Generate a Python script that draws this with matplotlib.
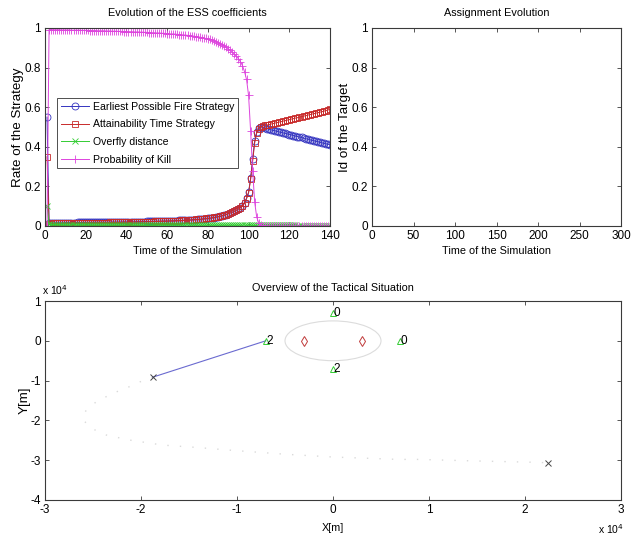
import matplotlib
matplotlib.use("Agg")
import matplotlib.pyplot as plt
import numpy as np
from matplotlib.patches import Ellipse
from matplotlib.ticker import FuncFormatter

plt.rcParams['font.family'] = ['Liberation Sans', 'DejaVu Sans']
plt.rcParams['font.size'] = 8

# ---- ESS coefficients (t = 1..140) ----
time_steps = np.arange(1, 141)

earliest_fire = [
    0.550, 0.015, 0.015, 0.015, 0.016, 0.016, 0.016, 0.016, 0.016, 0.017,
    0.017, 0.017, 0.017, 0.017, 0.017, 0.018, 0.018, 0.018, 0.018, 0.018,
    0.018, 0.018, 0.018, 0.019, 0.019, 0.019, 0.019, 0.019, 0.019, 0.019,
    0.019, 0.020, 0.020, 0.020, 0.020, 0.020, 0.020, 0.020, 0.021, 0.021,
    0.021, 0.021, 0.021, 0.021, 0.022, 0.022, 0.022, 0.022, 0.022, 0.023,
    0.023, 0.023, 0.023, 0.024, 0.024, 0.024, 0.024, 0.025, 0.025, 0.025,
    0.026, 0.026, 0.026, 0.027, 0.027, 0.028, 0.028, 0.029, 0.029, 0.030,
    0.030, 0.031, 0.032, 0.032, 0.033, 0.034, 0.035, 0.036, 0.037, 0.038,
    0.039, 0.041, 0.042, 0.044, 0.046, 0.048, 0.051, 0.054, 0.057, 0.061,
    0.065, 0.069, 0.074, 0.079, 0.085, 0.092, 0.100, 0.118, 0.140, 0.170,
    0.240, 0.340, 0.430, 0.475, 0.495, 0.500, 0.498, 0.495, 0.492, 0.489,
    0.486, 0.483, 0.481, 0.478, 0.475, 0.473, 0.470, 0.468, 0.465, 0.462,
    0.460, 0.457, 0.454, 0.452, 0.449, 0.447, 0.444, 0.441, 0.439, 0.436,
    0.433, 0.431, 0.428, 0.426, 0.423, 0.420, 0.418, 0.415, 0.413, 0.410,
]

attainability = [
    0.350, 0.012, 0.012, 0.013, 0.013, 0.013, 0.013, 0.013, 0.014, 0.014,
    0.014, 0.014, 0.014, 0.015, 0.015, 0.015, 0.015, 0.015, 0.015, 0.016,
    0.016, 0.016, 0.016, 0.016, 0.016, 0.017, 0.017, 0.017, 0.017, 0.017,
    0.017, 0.018, 0.018, 0.018, 0.018, 0.018, 0.018, 0.019, 0.019, 0.019,
    0.019, 0.019, 0.020, 0.020, 0.020, 0.020, 0.021, 0.021, 0.021, 0.021,
    0.022, 0.022, 0.022, 0.023, 0.023, 0.023, 0.024, 0.024, 0.024, 0.025,
    0.025, 0.026, 0.026, 0.026, 0.027, 0.027, 0.028, 0.028, 0.029, 0.030,
    0.030, 0.031, 0.032, 0.033, 0.033, 0.034, 0.035, 0.036, 0.038, 0.039,
    0.040, 0.042, 0.043, 0.045, 0.047, 0.049, 0.052, 0.055, 0.058, 0.062,
    0.066, 0.070, 0.075, 0.080, 0.086, 0.093, 0.101, 0.117, 0.138, 0.168,
    0.235, 0.330, 0.420, 0.470, 0.490, 0.500, 0.505, 0.508, 0.510, 0.512,
    0.515, 0.517, 0.520, 0.522, 0.525, 0.527, 0.530, 0.532, 0.535, 0.537,
    0.540, 0.542, 0.545, 0.547, 0.550, 0.552, 0.555, 0.557, 0.560, 0.562,
    0.565, 0.567, 0.570, 0.572, 0.575, 0.577, 0.580, 0.583, 0.586, 0.590,
]

overfly = [
    0.100, 0.008, 0.007, 0.007, 0.007, 0.007, 0.007, 0.007, 0.006, 0.006,
    0.006, 0.006, 0.006, 0.006, 0.006, 0.006, 0.006, 0.006, 0.006, 0.006,
    0.006, 0.006, 0.005, 0.005, 0.005, 0.005, 0.005, 0.005, 0.005, 0.005,
    0.005, 0.005, 0.005, 0.005, 0.005, 0.005, 0.005, 0.005, 0.005, 0.005,
    0.005, 0.005, 0.005, 0.005, 0.005, 0.005, 0.005, 0.005, 0.004, 0.004,
    0.004, 0.004, 0.004, 0.004, 0.004, 0.004, 0.004, 0.004, 0.004, 0.004,
    0.004, 0.004, 0.004, 0.004, 0.004, 0.004, 0.004, 0.004, 0.004, 0.004,
    0.004, 0.004, 0.004, 0.004, 0.004, 0.004, 0.004, 0.004, 0.004, 0.004,
    0.004, 0.004, 0.004, 0.004, 0.004, 0.004, 0.004, 0.004, 0.004, 0.004,
    0.004, 0.004, 0.004, 0.004, 0.004, 0.004, 0.004, 0.004, 0.004, 0.004,
    0.004, 0.003, 0.003, 0.003, 0.003, 0.003, 0.003, 0.003, 0.003, 0.003,
    0.003, 0.003, 0.003, 0.003, 0.003, 0.003, 0.003, 0.003, 0.003, 0.003,
    0.003, 0.003, 0.003, 0.002, 0.002, 0.002, 0.002, 0.002, 0.002, 0.002,
    0.002, 0.002, 0.002, 0.002, 0.002, 0.002, 0.002, 0.002, 0.002, 0.002,
]

prob_kill = [
    0.000, 0.992, 0.992, 0.991, 0.991, 0.991, 0.991, 0.990, 0.990, 0.990,
    0.990, 0.990, 0.989, 0.989, 0.989, 0.989, 0.989, 0.988, 0.988, 0.988,
    0.988, 0.987, 0.987, 0.987, 0.987, 0.986, 0.986, 0.986, 0.986, 0.985,
    0.985, 0.985, 0.984, 0.984, 0.984, 0.983, 0.983, 0.983, 0.982, 0.982,
    0.982, 0.981, 0.981, 0.980, 0.980, 0.980, 0.979, 0.979, 0.978, 0.978,
    0.977, 0.977, 0.976, 0.976, 0.975, 0.975, 0.974, 0.973, 0.973, 0.972,
    0.971, 0.970, 0.970, 0.969, 0.968, 0.967, 0.966, 0.965, 0.964, 0.963,
    0.962, 0.960, 0.959, 0.957, 0.956, 0.954, 0.952, 0.950, 0.947, 0.945,
    0.942, 0.939, 0.935, 0.931, 0.926, 0.921, 0.915, 0.909, 0.902, 0.895,
    0.887, 0.878, 0.868, 0.857, 0.845, 0.830, 0.810, 0.780, 0.740, 0.660,
    0.480, 0.280, 0.120, 0.045, 0.015, 0.005, 0.002, 0.001, 0.001, 0.000,
    0.000, 0.000, 0.000, 0.000, 0.000, 0.000, 0.000, 0.000, 0.000, 0.000,
    0.000, 0.000, 0.000, 0.000, 0.000, 0.000, 0.000, 0.000, 0.000, 0.000,
    0.000, 0.000, 0.000, 0.000, 0.000, 0.000, 0.000, 0.000, 0.000, 0.000,
]

strategy_names = ['Earliest Possible Fire Strategy', 'Attainability Time Strategy',
                  'Overfly distance', 'Probability of Kill']

# ---- tactical situation (metres) ----
traj_x = [-18780, -19810, -21190, -22920, -24640, -25680, -26030, -25850, -25160,
          -23610, -21190, -17740, -14280, -10830, -5000, 0, 6800, 8860, 15000,
          20600, 22400]
traj_y = [-9140, -10000, -11510, -13180, -15280, -17380, -18640, -20320, -22000,
          -23680, -24940, -26200, -26780, -27460, -28500, -29200, -29800, -29800,
          -30200, -30500, -30650]
missile_x = [-18780, 22400]
missile_y = [-9140, -30650]
aim_x = [-18780, -7000]
aim_y = [-9140, 0]
sensor_x = [0, -7000, 7000, 0]
sensor_y = [7000, 0, 0, -7000]
sensor_ids = ['0', '2', '0', '2']
asset_x = [-3000, 3000]
asset_y = [0, 0]
zone_radius = 5000

spine_col = '#3a3a3a'
tick_fs = 8.5
vlabel_fs = 9.6
text_fs = 7.8


def matlab_box(ax):
    for s in ax.spines.values():
        s.set_color(spine_col)
        s.set_linewidth(0.8)
    ax.tick_params(direction='in', top=True, right=True, length=3,
                   width=0.6, color=spine_col, labelsize=tick_fs, pad=3)


fig = plt.figure(figsize=(6.38, 5.37), dpi=100)
right_px = 621

# ESS coefficients
ax1 = fig.add_axes([45 / 638, 1 - 226 / 537, 285 / 638, 198 / 537])
ax1.plot(time_steps, earliest_fire, '-o', color='#3434c0', lw=0.7, ms=5,
         mfc='none', mew=0.6, label=strategy_names[0])
ax1.plot(time_steps, attainability, '-s', color='#c82a2a', lw=0.7, ms=4.6,
         mfc='none', mew=0.6, label=strategy_names[1])
ax1.plot(time_steps, overfly, '-x', color='#33cc33', lw=0.7, ms=3.8,
         mew=0.6, label=strategy_names[2])
ax1.plot(time_steps, prob_kill, '-+', color='#dd44dd', lw=0.7, ms=5.5,
         mew=0.6, label=strategy_names[3])
ax1.set_xlim(0, 140)
ax1.set_ylim(0, 1)
ax1.set_xticks(np.arange(0, 141, 20))
ax1.set_yticks([0, 0.2, 0.4, 0.6, 0.8, 1])
ax1.set_yticklabels(['0', '0.2', '0.4', '0.6', '0.8', '1'])
ax1.set_title('Evolution of the ESS coefficients', fontsize=text_fs, pad=9)
ax1.set_xlabel('Time of the Simulation', fontsize=text_fs, labelpad=3)
ax1.set_ylabel('Rate of the Strategy', fontsize=vlabel_fs, labelpad=0)
matlab_box(ax1)
leg = ax1.legend(loc='upper left', bbox_to_anchor=(0.042, 0.646), fontsize=7.6,
                 frameon=True, fancybox=False, handlelength=2.65,
                 borderpad=0.35, labelspacing=0.72, handletextpad=0.45,
                 borderaxespad=0)
leg.get_frame().set_edgecolor('#222222')
leg.get_frame().set_linewidth(0.7)

# Assignment evolution (empty)
ax2 = fig.add_axes([372 / 638, 1 - 226 / 537, (right_px - 372) / 638, 198 / 537])
ax2.set_xlim(0, 300)
ax2.set_ylim(0, 1)
ax2.set_xticks(np.arange(0, 301, 50))
ax2.set_yticks([0, 0.2, 0.4, 0.6, 0.8, 1])
ax2.set_yticklabels(['0', '0.2', '0.4', '0.6', '0.8', '1'])
ax2.set_title('Assignment Evolution', fontsize=text_fs, pad=9)
ax2.set_xlabel('Time of the Simulation', fontsize=text_fs, labelpad=3)
ax2.set_ylabel('Id of the Target', fontsize=vlabel_fs, labelpad=0)
matlab_box(ax2)

# Tactical situation
ax3 = fig.add_axes([45 / 638, 1 - 500 / 537, (right_px - 45) / 638, 199 / 537])
ax3.plot(traj_x, traj_y, color='#dadada', lw=1.0, ls=(0, (1, 8)))
ax3.plot(aim_x, aim_y, color='#6a6ad0', lw=0.8)
ax3.plot(missile_x, missile_y, 'x', color='#444444', ms=4, mew=0.7)
ax3.add_patch(Ellipse((0, 0), 2 * zone_radius, 2 * zone_radius, fill=False,
                      edgecolor='#dcdcdc', lw=0.8))
ax3.plot(asset_x, asset_y, 'd', mfc='none', mec='#c03a3a', ms=5.5, mew=0.7)
ax3.plot(sensor_x, sensor_y, '^', mfc='none', mec='#33cc33', ms=5, mew=0.7)
for sx, sy, sid in zip(sensor_x, sensor_y, sensor_ids):
    ax3.text(sx + 80, sy, sid, fontsize=8.5, ha='left', va='center', color='black')
ax3.set_xlim(-30000, 30000)
ax3.set_ylim(-40000, 10000)
ax3.set_xticks(np.arange(-30000, 30001, 10000))
ax3.set_yticks(np.arange(-40000, 10001, 10000))
fmt = FuncFormatter(lambda v, p: '%d' % round(v / 1e4))
ax3.xaxis.set_major_formatter(fmt)
ax3.yaxis.set_major_formatter(fmt)
ax3.set_title('Overview of the Tactical Situation', fontsize=text_fs, pad=7)
ax3.set_xlabel('X[m]', fontsize=text_fs, labelpad=5)
ax3.set_ylabel('Y[m]', fontsize=vlabel_fs, labelpad=0)
matlab_box(ax3)
ax3.text(-0.005, 1.02, r'x 10$^4$', transform=ax3.transAxes, ha='left',
         va='bottom', fontsize=7.5)
ax3.text(1.005, -0.11, r'x 10$^4$', transform=ax3.transAxes, ha='right',
         va='top', fontsize=7.5)

fig.savefig('out.png', dpi=100, facecolor='white')
